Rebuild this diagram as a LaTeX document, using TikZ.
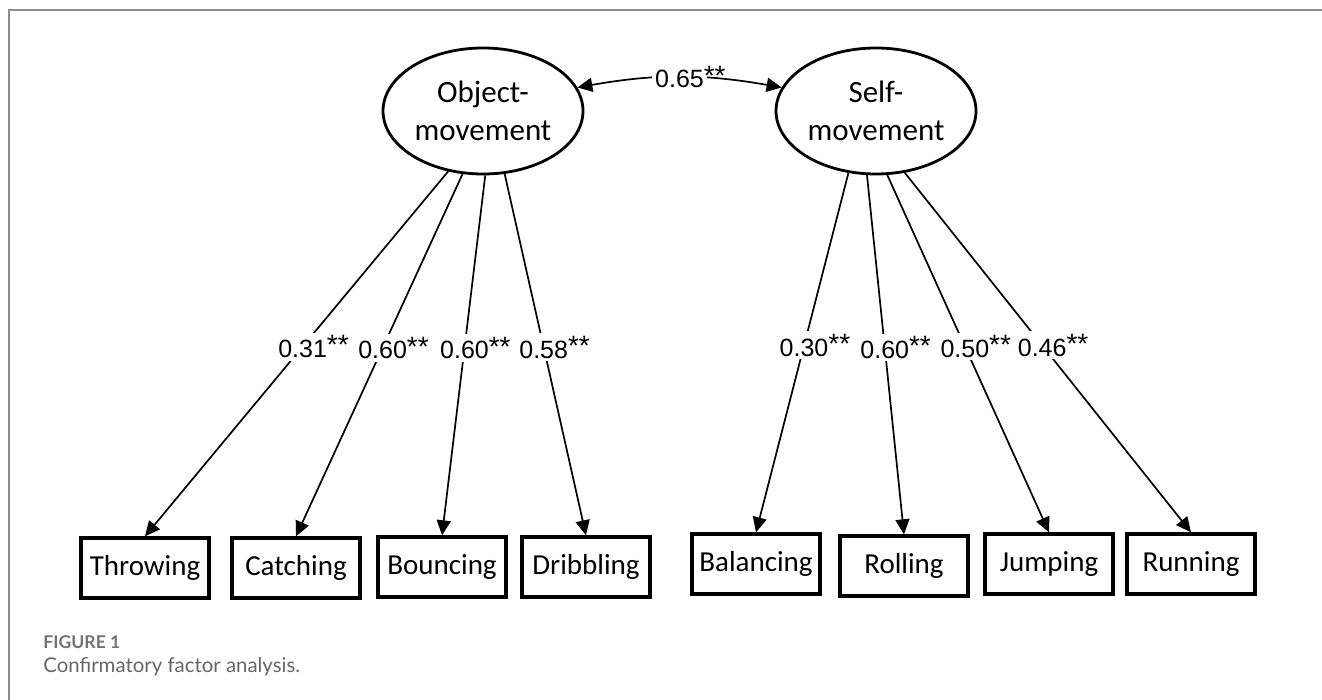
\documentclass[tikz,border=0pt]{standalone}
\usepackage{fontspec}
\setmainfont{Carlito}
\newfontfamily\numfont{Liberation Sans}
\newfontfamily\capfont{Lato}
\usetikzlibrary{shapes.geometric, arrows.meta}

\newcommand{\sig}[1]{#1\rlap{\raisebox{1.2pt}{\fontsize{14}{14}\selectfont **}}}

\begin{document}
\begin{tikzpicture}[
        x=0.5pt, y=-0.5pt,
        latent/.style={ellipse, draw=black, line width=1.4pt, minimum width=100pt, minimum height=63pt, inner sep=0pt, align=center, font=\fontsize{15.5}{19}\selectfont},
        indicator/.style={rectangle, draw=black, line width=1.7pt, minimum width=64pt, minimum height=30pt, inner sep=0pt, font=\fontsize{14.5}{17}\selectfont},
        load/.style={-{Triangle[length=7.5pt, width=7pt]}, line width=0.85pt},
        cov/.style={{Triangle[length=7.5pt, width=7pt]}-{Triangle[length=7.5pt, width=7pt]}, line width=0.85pt},
        coef/.style={fill=white, inner sep=1.5pt, font=\numfont\fontsize{12.5}{14}\selectfont}
    ]
        \useasboundingbox (0,0) rectangle (1322,700);
        \draw[black!45, line width=0.8pt] (1322,10) -- (9,10) -- (9,700);

        % latent factors
        \node[latent] (obj) at (483,111) {Object-\\movement};
        \node[latent] (self) at (876,111) {Self-\\movement};

        % observed skills
        \node[indicator] (throw) at (145,568) {Throwing};
        \node[indicator] (catch) at (296,568) {Catching};
        \node[indicator] (bounce) at (442,567) {Bouncing};
        \node[indicator] (dribble) at (586,567) {Dribbling};
        \node[indicator] (balance) at (756,564) {Balancing};
        \node[indicator] (roll) at (904,566) {Rolling};
        \node[indicator] (jump) at (1049,564) {Jumping};
        \node[indicator] (run) at (1191,564) {Running};

        % loadings
        \draw[load] (obj.240) -- node[coef, pos=0.48] {\sig{0.31}} (throw.north);
        \draw[load] (obj.252) -- node[coef, pos=0.48] {\sig{0.60}} (catch.north);
        \draw[load] (obj.272) -- node[coef, pos=0.48] {\sig{0.60}} (bounce.north);
        \draw[load] (obj.289) -- node[coef, pos=0.48] {\sig{0.58}} (dribble.north);
        \draw[load] (self.246) -- node[coef, pos=0.48] {\sig{0.30}} (balance.north);
        \draw[load] (self.262) -- node[coef, pos=0.48] {\sig{0.60}} (roll.north);
        \draw[load] (self.280) -- node[coef, pos=0.48] {\sig{0.50}} (jump.north);
        \draw[load] (self.295) -- node[coef, pos=0.48] {\sig{0.46}} (run.north);

        % factor covariance
        \draw[cov] (obj.14) to[bend left=10] node[coef] {\sig{0.65}} (self.166);

        % caption
        \node[anchor=base west, inner sep=0pt, text=black!55, font=\capfont\bfseries\fontsize{8.8}{10}\selectfont] (fig) at (43,648) {FIGURE 1};
        \node[anchor=base west, inner sep=0pt, text=black!60, font=\capfont\fontsize{10.2}{12}\selectfont] (cap) at (43,672) {Confirmatory factor analysis.};
    \end{tikzpicture}
\end{document}
